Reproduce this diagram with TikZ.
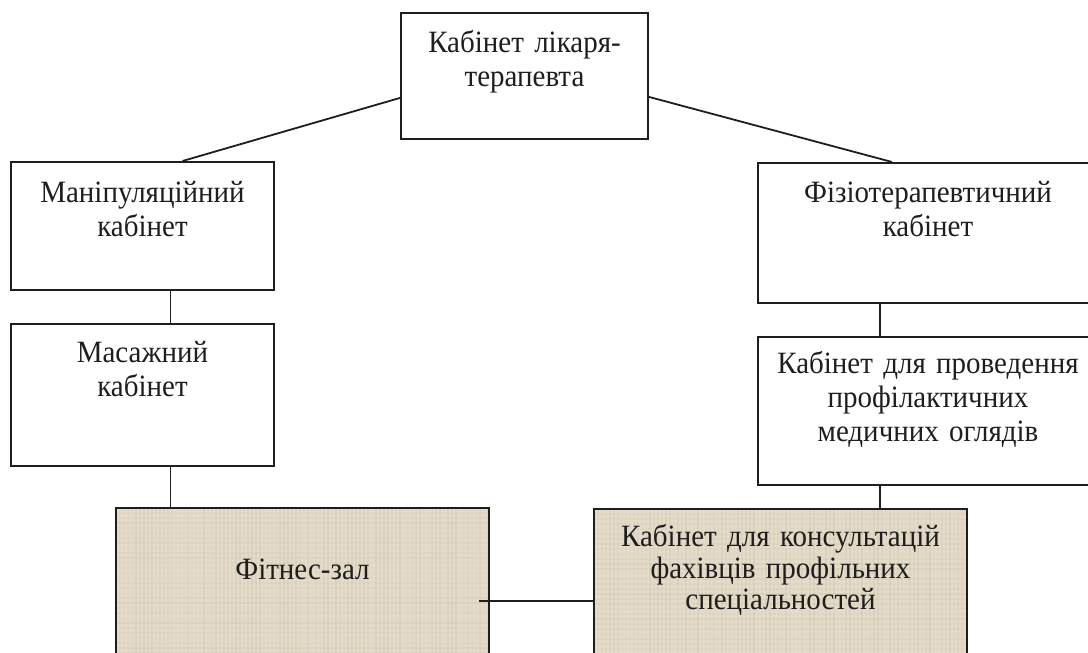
\documentclass[tikz,border=0pt]{standalone}
\usepackage{fontspec}
\setmainfont{Liberation Serif}[FakeStretch=0.935]
\usepackage{tikz}
\usetikzlibrary{positioning}
\definecolor{HallBeige}{HTML}{E5DCCA}
\definecolor{HallWeave}{HTML}{BFB39C}
\definecolor{InkGray}{HTML}{1E1E1E}
\newcommand{\roomfont}{\fontsize{31pt}{34pt}\selectfont}

\tikzset{
  room/.style={draw=InkGray, line width=1.8pt, inner xsep=0pt, inner ysep=0pt,
    align=center, text width=#1, minimum width=#1, font=\roomfont,
    text=InkGray, anchor=north},
  hall/.style={room=#1, fill=HallBeige, path picture={
      \foreach \k in {0,4,...,372} {
        \pgfmathsetmacro{\op}{0.05+0.2*rnd}
        \draw[HallWeave, opacity=\op, line width=2pt]
          ([xshift=\k pt]path picture bounding box.north west) --
          ([xshift=\k pt]path picture bounding box.south west);
      }
      \foreach \k in {0,5,...,270} {
        \pgfmathsetmacro{\op}{0.04+0.15*rnd}
        \draw[HallWeave, opacity=\op, line width=2pt]
          ([yshift=-\k pt]path picture bounding box.north west) --
          ([yshift=-\k pt]path picture bounding box.north east);
      }
    }},
  link/.style={draw=InkGray, line width=1.8pt}
}

\begin{document}
\begin{tikzpicture}[x=1pt, y=-1pt]
        \pgfmathsetseed{7}
        \useasboundingbox (0,0) rectangle (1088,653);
        \clip (0,0) rectangle (1088,653);
        % top of the tree
        \node[room=247pt, text height=40pt, text depth=86pt] (doctor) at (524.5,12)
          {Кабінет лікаря-\\терапевта};
        % left branch
        \node[room=263pt, text height=41pt, text depth=87pt] (manip) at (142.5,161)
          {Маніпуляційний\\кабінет};
        \node[room=263pt, text height=39pt, text depth=103pt] (massage) at (142.5,323)
          {Масажний\\кабінет};
        % right branch
        \node[room=340pt, text height=40pt, text depth=100pt] (physio) at (928,162)
          {Фізіотерапевтичний\\кабінет};
        \node[room=340pt, text height=37pt, text depth=111pt] (prof) at (928,336)
          {Кабінет для проведення\\профілактичних\\медичних оглядів};
        % shaded rooms at the bottom
        \node[hall=373pt, text height=72pt, text depth=200pt] (fitness) at (302.5,507)
          {Фітнес-зал};
        \node[hall=373pt, text height=38pt, text depth=200pt,
          font=\fontsize{31pt}{31.5pt}\selectfont] (consult) at (780.5,508)
          {Кабінет для консультацій\\фахівців профільних\\спеціальностей};
        \coordinate (fitlink) at (479,601);

        \draw[link] ([yshift=-22pt]doctor.west) -- ([xshift=40pt]manip.north);
        \draw[link] ([yshift=-21pt]doctor.east) -- ([xshift=-36pt]physio.north);
        \draw[link] ([xshift=28pt]manip.south) -- ([xshift=28pt]massage.north);
        \draw[link] ([xshift=28pt]massage.south) -- ([xshift=28pt]massage.south |- fitness.north);
        \draw[link] ([xshift=-48pt]physio.south) -- ([xshift=-48pt]prof.north);
        \draw[link] ([xshift=-48pt]prof.south) -- ([xshift=-48pt]prof.south |- consult.north);
        \draw[link] (fitlink) -- (fitlink -| consult.west);
      \end{tikzpicture}
\end{document}
